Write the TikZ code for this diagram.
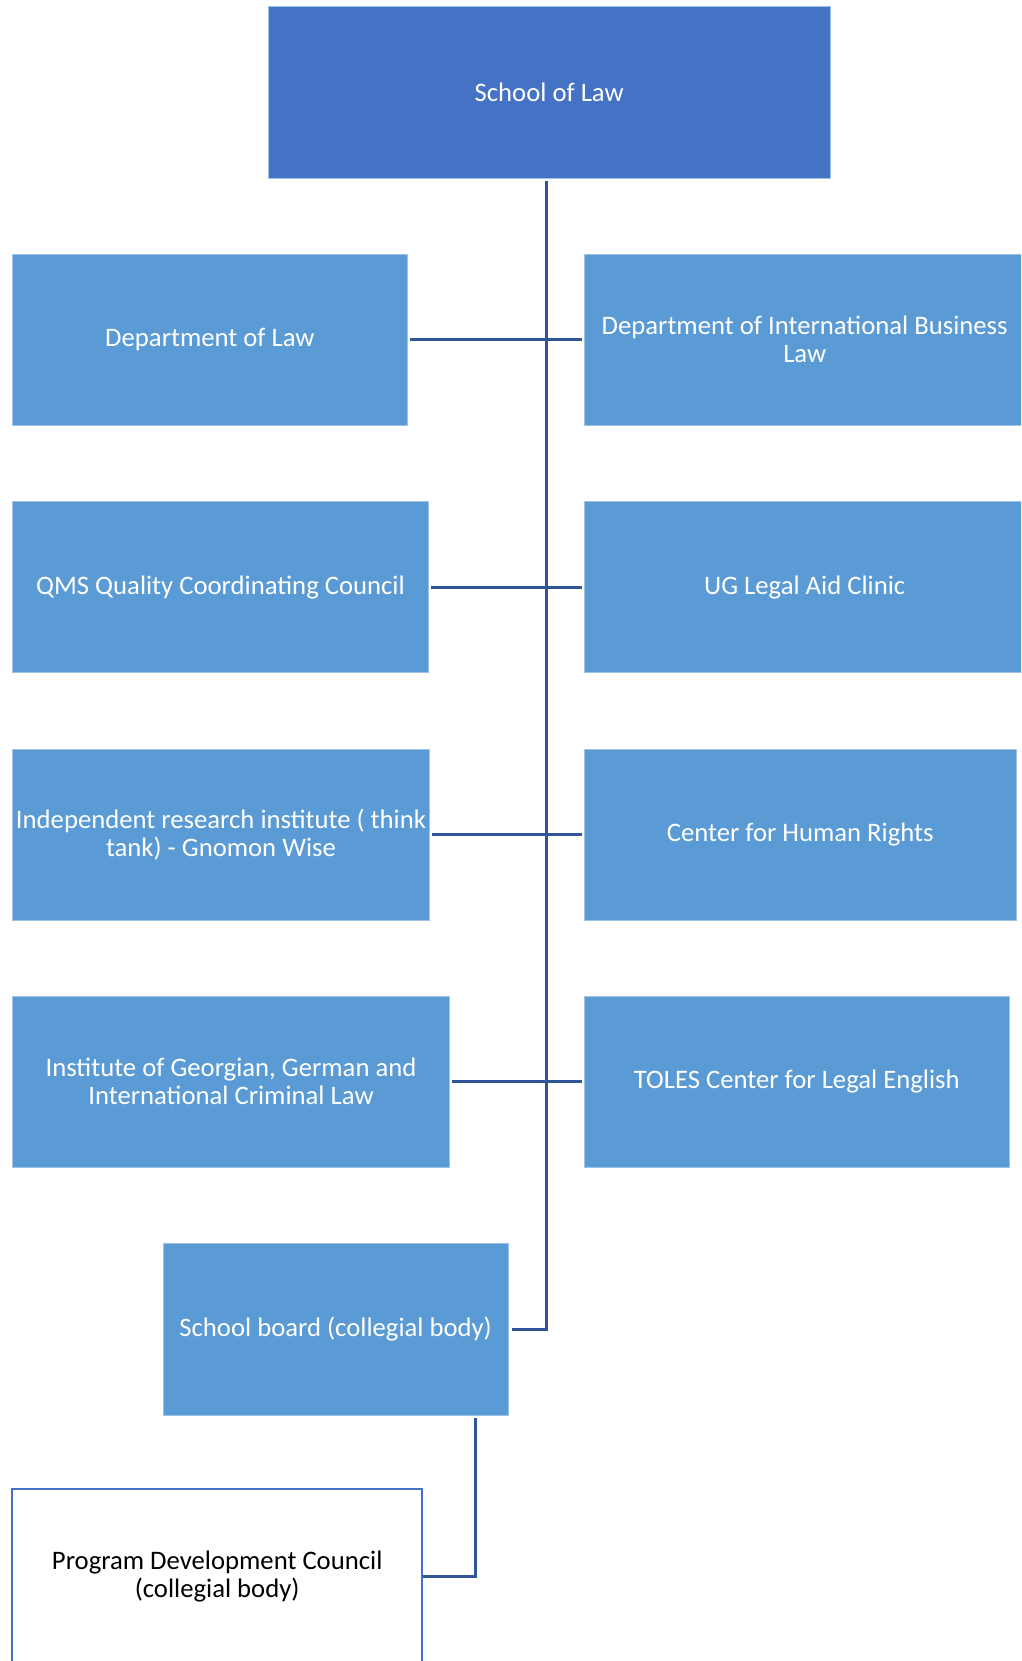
\documentclass[tikz,border=0pt]{standalone}
\usepackage{fontspec}
\setmainfont{Carlito}
\definecolor{topblue}{HTML}{4472C4}
\definecolor{boxblue}{HTML}{5B9BD5}
\definecolor{boxedge}{HTML}{9DC3E6}
\definecolor{connblue}{HTML}{2F5597}
\begin{document}
\begin{tikzpicture}[x=1pt,y=-1pt,
  every node/.style={inner sep=0pt,outer sep=0pt,align=center,font=\fontsize{26.7}{28.3}\selectfont},
  unitbox/.style={rectangle,fill=boxblue,draw=boxedge,line width=0.8pt,text=white,minimum height=171pt},
  topbox/.style={rectangle,fill=topblue,draw=boxedge,line width=0.8pt,text=white,minimum height=171.3pt},
  whitebox/.style={rectangle,fill=white,draw=topblue,line width=2pt,text=black},
  conn/.style={draw=connblue,line width=2.6pt}]
\useasboundingbox (0,0) rectangle (1021,1661);
\clip (0,0) rectangle (1021,1661);
\fill[white] (0,0) rectangle (1021,1661);

\node[topbox,minimum width=561.7pt] (sol) at (549.2,92.3) {School of Law};

\node[unitbox,minimum width=394.3pt] (dl) at (209.9,339.5) {Department of Law};
\node[unitbox,minimum width=440.7pt] (dibl) at (804.7,339.5) {Department of International Business\\Law};

\node[unitbox,minimum width=415.6pt] (qms) at (220.5,587.2) {QMS Quality Coordinating Council};
\node[unitbox,minimum width=440.7pt] (ugl) at (804.7,587.2) {UG Legal Aid Clinic};

\node[unitbox,minimum width=416.6pt] (irt) at (221,834.7) {Independent research institute ( think\\tank) - Gnomon Wise};
\node[unitbox,minimum width=431.7pt] (chr) at (800.2,834.7) {Center for Human Rights};

\node[unitbox,minimum width=436.6pt] (igg) at (231,1081.6) {Institute of Georgian, German and\\International Criminal Law};
\node[unitbox,minimum width=425pt] (toles) at (796.8,1081.6) {TOLES Center for Legal English};

\node[unitbox,minimum width=345.3pt,minimum height=171.7pt] (sb) at (335.7,1329.2) {School board (collegial body)};

\node[whitebox,minimum width=410.3pt,minimum height=174.7pt] (pdc) at (217.2,1576.7) {Program Development Council\\(collegial body)};

% spine
\coordinate (spinetop) at (546.5,181);
\coordinate (knee) at (475.5,1418);
\draw[conn] (spinetop) -- (spinetop |- sb.east) -- ([xshift=3.5pt]sb.east);

% horizontal connectors
\draw[conn,shorten <=3pt,shorten >=2.3pt] (dl.east) -- (dibl.west);
\draw[conn,shorten <=3pt,shorten >=2.3pt] (qms.east) -- (ugl.west);
\draw[conn,shorten <=3pt,shorten >=2.3pt] (irt.east) -- (chr.west);
\draw[conn,shorten <=3pt,shorten >=2.3pt] (igg.east) -- (toles.west);

% lower connector
\draw[conn] (knee) -- (knee |- pdc.east) -- ([xshift=1pt]pdc.east);
\end{tikzpicture}
\end{document}
